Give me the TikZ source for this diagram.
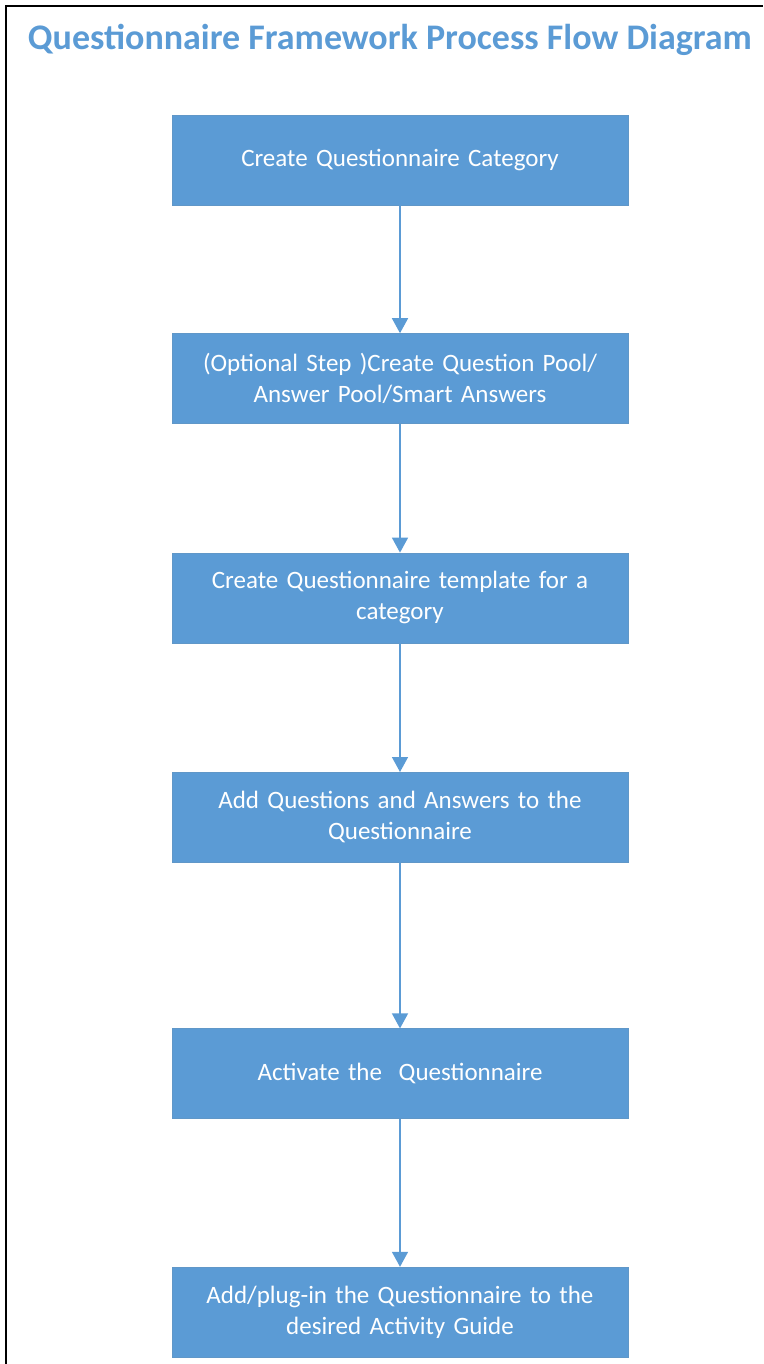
\documentclass[tikz,border=0pt]{standalone}
\usepackage{fontspec}
\setmainfont{Carlito}
\usepackage{tikz}
\usetikzlibrary{arrows.meta, positioning}
\definecolor{officeblue}{HTML}{5B9BD5}

\begin{document}
\begin{tikzpicture}[x=1pt, y=-1pt,
    block/.style={rectangle, fill=officeblue, draw=officeblue!85!gray, text=white, text width=440pt, align=center, minimum width=456pt, minimum height=90pt, inner sep=0pt, font=\fontsize{25}{31}\selectfont},
    line/.style={draw=officeblue, line width=1.5pt, -{Triangle[length=15pt, width=16pt]}}]

    \useasboundingbox (0,0) rectangle (763,1364);
    \draw[line width=1.5pt] (6,1364) -- (6,6) -- (763,6);

    \node [text=officeblue, font=\fontsize{36}{40}\selectfont\bfseries] (title) at (390,40) {Questionnaire Framework Process Flow Diagram};

    \node [block] (category) at (400,160) {Create Questionnaire Category};
    \node [block, below=128pt of category] (pool) {(Optional Step )Create Question Pool/\\Answer Pool/Smart Answers};
    \node [block, below=129pt of pool] (template) {Create Questionnaire template for a\\category};
    \node [block, below=129pt of template] (questions) {Add Questions and Answers to the\\Questionnaire};
    \node [block, below=166pt of questions] (activate) {Activate the\ \ Questionnaire};
    \node [block, below=148pt of activate] (guide) {Add/plug-in the Questionnaire to the\\desired Activity Guide};

    \path [line] (category) -- (pool);
    \path [line] (pool) -- (template);
    \path [line] (template) -- (questions);
    \path [line] (questions) -- (activate);
    \path [line] (activate) -- (guide);
\end{tikzpicture}
\end{document}
